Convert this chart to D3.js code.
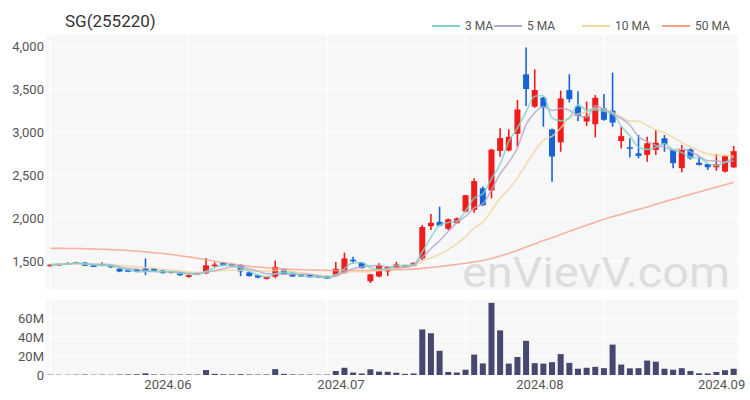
<!DOCTYPE html>
<html><head><meta charset="utf-8">
<script src="https://cdn.jsdelivr.net/npm/d3@7"></script>
<style>body{margin:0;background:#fff;} svg{display:block;font-family:Roboto,"Noto Sans",sans-serif;}</style>
</head><body><svg id="c" width="750" height="400"></svg>
<script>
const dates = ["2024-05-14","2024-05-16","2024-05-17","2024-05-20","2024-05-21","2024-05-22","2024-05-23","2024-05-24","2024-05-27","2024-05-28","2024-05-29","2024-05-30","2024-05-31",
"2024-06-03","2024-06-04","2024-06-05","2024-06-06","2024-06-07","2024-06-10","2024-06-11","2024-06-12","2024-06-13","2024-06-14","2024-06-17","2024-06-18","2024-06-19","2024-06-20","2024-06-21","2024-06-24","2024-06-25","2024-06-26","2024-06-27","2024-06-28",
"2024-07-01","2024-07-02","2024-07-03","2024-07-04","2024-07-05","2024-07-08","2024-07-09","2024-07-10","2024-07-11","2024-07-12","2024-07-15","2024-07-16","2024-07-17","2024-07-18","2024-07-19","2024-07-22","2024-07-23","2024-07-24","2024-07-25","2024-07-26","2024-07-29","2024-07-30","2024-07-31",
"2024-08-01","2024-08-02","2024-08-05","2024-08-06","2024-08-07","2024-08-08","2024-08-09","2024-08-12","2024-08-13","2024-08-14","2024-08-16","2024-08-19","2024-08-20","2024-08-21","2024-08-22","2024-08-23","2024-08-26","2024-08-27","2024-08-28","2024-08-29","2024-08-30",
"2024-09-02","2024-09-03","2024-09-04"];
const opens = [1440,1450,1462,1470,1482,1448,1465,1445,1410,1400,1405,1412,1412,1390,1362,1368,1315,1345,1357,1448,1478,1465,1455,1368,1335,1292,1318,1405,1352,1345,1338,1330,1325,1328,1360,1515,1480,1265,1320,1380,1418,1432,1445,1530,1905,1955,1875,1940,2075,2095,2345,2320,2780,2785,2980,3670,3295,3400,3030,2880,3488,3295,3122,3090,3275,3248,2895,2822,2752,2735,2792,2927,2790,2580,2798,2643,2628,2590,2540,2590];
const highs = [1465,1470,1485,1492,1490,1452,1485,1455,1418,1405,1410,1530,1420,1395,1385,1372,1345,1365,1535,1485,1485,1470,1460,1375,1340,1320,1505,1412,1358,1350,1342,1335,1330,1488,1597,1550,1485,1350,1475,1440,1492,1458,1485,1920,2047,2131,1995,2005,2270,2462,2365,2805,3043,3031,3372,3984,3729,3410,3040,3481,3671,3473,3353,3430,3442,3690,3062,2927,2965,2946,3023,2965,2800,2849,2810,2713,2632,2744,2735,2837];
const lows = [1435,1445,1455,1465,1440,1432,1450,1420,1370,1368,1370,1337,1378,1352,1355,1328,1305,1340,1350,1430,1440,1435,1325,1318,1300,1285,1300,1340,1315,1315,1308,1302,1290,1320,1350,1470,1412,1245,1312,1326,1410,1425,1440,1512,1862,1905,1862,1935,2065,2062,2140,2229,2713,2775,2829,3302,3280,3062,2422,2771,3345,3128,3070,2938,3130,3062,2810,2705,2694,2655,2733,2771,2578,2531,2680,2610,2558,2550,2530,2580];
const closes = [1458,1465,1478,1485,1445,1440,1458,1432,1378,1375,1378,1380,1385,1360,1378,1335,1335,1360,1450,1458,1448,1440,1380,1325,1308,1315,1432,1348,1320,1320,1312,1308,1295,1410,1530,1505,1418,1345,1450,1432,1460,1450,1478,1895,1945,1912,1985,1995,2265,2430,2150,2795,2930,2945,3262,3500,3488,3285,2715,3390,3382,3188,3186,3398,3142,3110,2952,2805,2722,2868,2875,2858,2638,2790,2695,2618,2590,2628,2720,2778];
const volumesM = [0.4,0.3,0.3,0.4,0.5,0.3,0.4,0.3,0.5,0.6,0.8,1.8,0.6,0.5,0.4,0.5,0.6,0.5,5.2,1.2,0.8,0.6,0.9,0.6,0.5,0.6,6.2,1.2,0.6,0.5,0.5,0.4,0.5,4.2,7.6,2.6,1.6,6.0,3.6,3.4,2.4,1.2,1.6,48,44,25.5,3.2,2.6,5.6,21.5,12.2,76,47,12,19,36,12.5,12,13.5,22,12.8,6.6,7.6,8.6,7.2,32,11,7,7.2,15.2,14,6.6,5.6,7.2,4.2,1.8,1.6,3.2,5,6.6];
const ma50 = [1648,1647,1646,1645,1643,1640,1637,1633,1628,1622,1614,1606,1597,1587,1575,1562,1548,1532,1515,1498,1482,1466,1451,1440,1430,1422,1415,1408,1403,1399,1396,1393,1391,1390,1389,1389,1390,1391,1393,1395,1398,1402,1406,1414,1425,1436,1448,1460,1474,1490,1506,1530,1558,1588,1622,1662,1700,1738,1770,1808,1846,1882,1916,1952,1985,2015,2045,2073,2100,2128,2160,2190,2218,2247,2275,2303,2331,2359,2387,2415];
const priceTicks = [1500,2000,2500,3000,3500,4000];
const volTicks = [0,20,40,60];
const maPeriods = [3,5,10];
const maLabels = ["3 MA","5 MA","10 MA","50 MA"];
const maColors = ["#7fd3c8","#b3a6cb","#f3d39e","#f5a08c"];

const svg = d3.select("#c");
const L = 46, R = 738;
const x = d3.scaleLinear().domain([-0.5, dates.length - 0.5]).range([L, R]);
const y = d3.scaleLinear().domain([1163, 4128]).range([290, 35]);
const yv = d3.scaleLinear().domain([0, 79]).range([375, 300]);
const idx = d3.range(dates.length);

svg.append("rect").attr("x", L).attr("y", 35).attr("width", R - L).attr("height", 255).attr("fill", "#f7f7f7");
svg.append("rect").attr("x", L).attr("y", 300).attr("width", R - L).attr("height", 75).attr("fill", "#f7f7f7");

const g = svg.append("g").attr("stroke", "#ffffff").attr("stroke-width", 1.2);
priceTicks.forEach(t => g.append("line").attr("x1", L).attr("x2", R).attr("y1", y(t)).attr("y2", y(t)));
volTicks.filter(t => t > 0).forEach(t => g.append("line").attr("x1", L).attr("x2", R).attr("y1", yv(t)).attr("y2", yv(t)));
idx.filter(i => i % 16 === 0).forEach(i => {
  g.append("line").attr("x1", x(i)).attr("x2", x(i)).attr("y1", 35).attr("y2", 290);
  g.append("line").attr("x1", x(i)).attr("x2", x(i)).attr("y1", 300).attr("y2", 375);
});

svg.append("text").attr("x", 462).attr("y", 287).attr("font-size", 42).attr("fill", "#c8c8c8").attr("opacity", 0.55)
  .attr("textLength", 268).attr("lengthAdjust", "spacingAndGlyphs").text("enVievV.com");

const yl = svg.append("g").attr("font-size", 13).attr("fill", "#555").attr("text-anchor", "end");
priceTicks.forEach(t => yl.append("text").attr("x", 44).attr("y", y(t) + 4.5).text(d3.format(",")(t)));
volTicks.forEach(t => yl.append("text").attr("x", 44).attr("y", yv(t) + 4.5).text(t === 0 ? "0" : t + "M"));

const monthFirst = idx.filter(i => i === 0 ? false : dates[i].slice(5, 7) !== dates[i - 1].slice(5, 7));
const xl = svg.append("g").attr("font-size", 13).attr("fill", "#555").attr("text-anchor", "middle");
monthFirst.forEach(i => xl.append("text").attr("x", x(i + 0.6)).attr("y", 389).text(dates[i].slice(0, 7).replace("-", ".")));

svg.append("g").selectAll("rect").data(idx).join("rect")
  .attr("x", i => x(i) - 3).attr("width", 6)
  .attr("y", i => yv(volumesM[i])).attr("height", i => yv(0) - yv(volumesM[i]))
  .attr("fill", "#464870");

const up = "#f01c1c", dn = "#1762d5";
const col = i => closes[i] >= opens[i] ? up : dn;
const cg = svg.append("g");
cg.selectAll("line").data(idx).join("line")
  .attr("x1", i => x(i)).attr("x2", i => x(i)).attr("y1", i => y(highs[i])).attr("y2", i => y(lows[i]))
  .attr("stroke", col).attr("stroke-width", 1.6);
cg.selectAll("rect").data(idx).join("rect")
  .attr("x", i => x(i) - 3).attr("width", 6)
  .attr("y", i => y(Math.max(opens[i], closes[i])))
  .attr("height", i => Math.max(1.5, Math.abs(y(opens[i]) - y(closes[i]))))
  .attr("fill", col);

const maSeries = maPeriods.map(p => idx.map(i => d3.mean(closes.slice(Math.max(0, i - p + 1), i + 1))));
maSeries.push(ma50);
const line = d3.line().x((d, i) => x(i)).y(d => y(d)).curve(d3.curveMonotoneX);
[3,2,1,0].forEach(k => {
  svg.append("path").attr("d", line(maSeries[k])).attr("fill", "none")
    .attr("stroke", maColors[k]).attr("stroke-width", 1.6).attr("opacity", 0.8);
});

svg.append("text").attr("x", 65).attr("y", 27).attr("font-size", 17).attr("fill", "#333").text("SG(255220)");

const legX = [432, 494, 582, 662];
const lg = svg.append("g").attr("font-size", 12).attr("fill", "#555");
maLabels.forEach((lab, k) => {
  lg.append("line").attr("x1", legX[k]).attr("x2", legX[k] + 28).attr("y1", 26).attr("y2", 26)
    .attr("stroke", maColors[k]).attr("stroke-width", 2);
  lg.append("text").attr("x", legX[k] + 33).attr("y", 30).text(lab);
});
</script></body></html>
